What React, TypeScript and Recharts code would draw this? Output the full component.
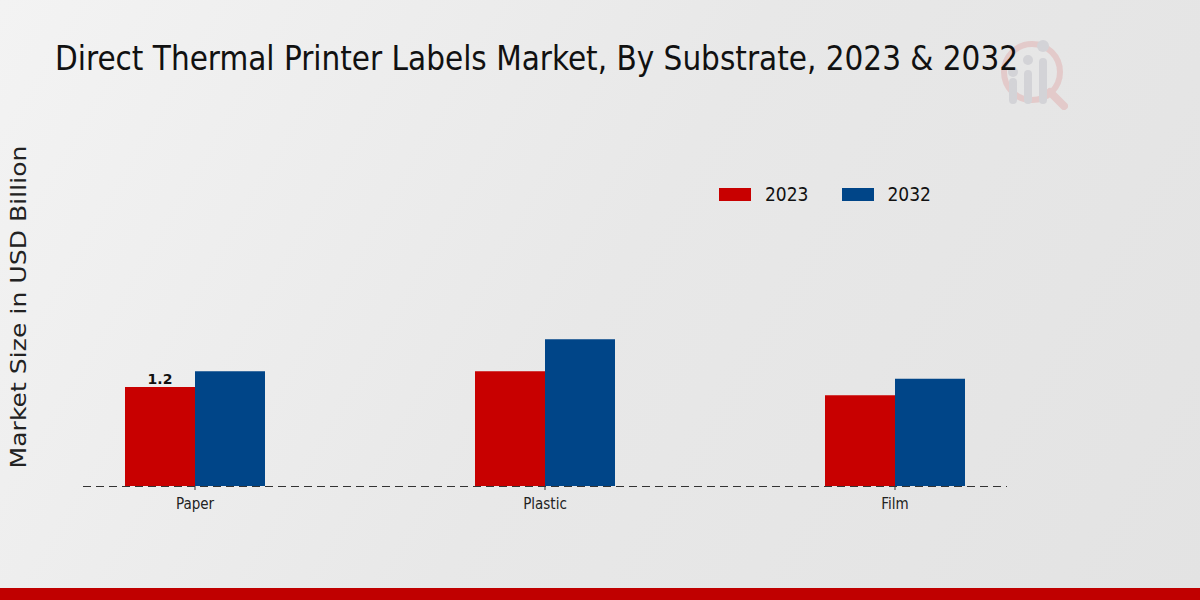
import React from "react";
import { BarChart, Bar, XAxis, YAxis, Legend, LabelList } from "recharts";

const categories = ["Paper", "Plastic", "Film"];
const values2023 = [1.2, 1.39, 1.1];
const values2032 = [1.39, 1.78, 1.3];
const seriesNames = ["2023", "2032"];
const seriesColors = ["#c80000", "#004588"];

const data = categories.map((c, i) => ({
  name: c,
  y2023: values2023[i],
  y2032: values2032[i],
}));

const renderLegend = (props: any) => {
  const { payload } = props;
  return (
    <div style={{ display: "flex", fontFamily: "DejaVu Sans Condensed, DejaVu Sans", fontSize: 19, color: "#111" }}>
      {payload.map((p: any, i: number) => (
        <div key={i} style={{ display: "flex", alignItems: "center", marginRight: i === 0 ? 33 : 0 }}>
          <div style={{ width: 32, height: 13, background: p.color, marginRight: 14 }} />
          <span>{p.value}</span>
        </div>
      ))}
    </div>
  );
};

const firstLabel = (props: any) => {
  const { x, y, width, value, index } = props;
  if (index !== 0) return null;
  return (
    <text x={x + width / 2} y={y - 3} textAnchor="middle" fontFamily="DejaVu Sans" fontWeight="bold" fontSize={14} fill="#111">
      {value}
    </text>
  );
};

export default function App() {
  return (
    <div style={{ position: "fixed", left: 0, top: 0, width: 1200, height: 600, overflow: "hidden", background: "linear-gradient(120deg, #f3f3f3 0%, #e8e8e8 50%, #e3e3e3 100%)" }}>
      <BarChart
        width={1200}
        height={600}
        data={data}
        margin={{ top: 156, right: 130, bottom: 84, left: 20 }}
        barCategoryGap="30%"
        barGap={0}
      >
        <XAxis
          dataKey="name"
          height={30}
          axisLine={false}
          tickLine={{ stroke: "#333" }}
          tickSize={4}
          tickMargin={8}
          tick={{ fontFamily: "DejaVu Sans Condensed, DejaVu Sans", fontSize: 15, fill: "#222" }}
        />
        <YAxis hide width={0} domain={[0, 4]} />
        <Legend
          layout="horizontal"
          verticalAlign="middle"
          align="center"
          content={renderLegend}
          wrapperStyle={{ position: "absolute", top: 183, left: 719, width: "auto" }}
        />
        <Bar dataKey="y2023" name={seriesNames[0]} fill={seriesColors[0]} barSize={70} isAnimationActive={false}>
          <LabelList dataKey="y2023" content={firstLabel} />
        </Bar>
        <Bar dataKey="y2032" name={seriesNames[1]} fill={seriesColors[1]} barSize={70} isAnimationActive={false} />
      </BarChart>
      <svg width={1200} height={600} style={{ position: "absolute", left: 0, top: 0, pointerEvents: "none" }}>
        <g opacity={0.9}>
          <circle cx={1032} cy={72} r={28} fill="none" stroke="#e3c8c8" strokeWidth={6} />
          <line x1={1050} y1={92} x2={1064} y2={106} stroke="#e3c8c8" strokeWidth={8} strokeLinecap="round" />
          <rect x={1009} y={78} width={8} height={26} rx={4} fill="#d2d2d6" />
          <rect x={1024} y={70} width={8} height={34} rx={4} fill="#d2d2d6" />
          <rect x={1039} y={58} width={8} height={46} rx={4} fill="#d2d2d6" />
          <circle cx={1013} cy={72} r={5} fill="#d2d2d6" />
          <circle cx={1028} cy={60} r={5} fill="#d2d2d6" />
          <circle cx={1043} cy={46} r={6} fill="#d2d2d6" />
        </g>
        <text x={55} y={70} fontFamily="DejaVu Sans Condensed, DejaVu Sans" fontSize={34} fill="#111" textLength={963} lengthAdjust="spacingAndGlyphs">
          Direct Thermal Printer Labels Market, By Substrate, 2023 &amp; 2032
        </text>
        <text
          x={0}
          y={0}
          transform="translate(26,307) rotate(-90)"
          textAnchor="middle"
          fontFamily="DejaVu Sans"
          fontSize={22}
          fill="#222"
          textLength={323}
          lengthAdjust="spacingAndGlyphs"
        >
          Market Size in USD Billion
        </text>
        <line x1={83} y1={486.5} x2={1007} y2={486.5} stroke="#333" strokeWidth={1} strokeDasharray="8 5" />
        <rect x={0} y={588} width={1200} height={12} fill="#c00000" />
      </svg>
    </div>
  );
}
